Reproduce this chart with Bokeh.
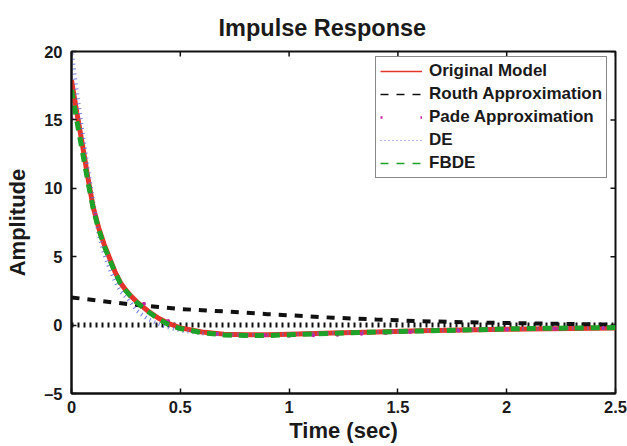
from bokeh.plotting import figure
from bokeh.models import (ColumnDataSource, FixedTicker, Range1d,
                          Legend, LegendItem, CustomJSTickFormatter)
from bokeh.embed import file_html
from bokeh.resources import INLINE
import math

# ---- data ----
t = [0, 0.025, 0.05, 0.075, 0.1, 0.125, 0.15, 0.175, 0.2, 0.225, 0.25, 0.275,
     0.3, 0.35, 0.4, 0.45, 0.5, 0.6, 0.7, 0.8, 0.9, 1.0, 1.2, 1.4, 1.6, 1.8,
     2.0, 2.2, 2.5]
original = [17.9, 15.5, 13.2, 10.8, 8.6, 7.1, 5.9, 4.9, 3.9, 3.1, 2.55, 2.1,
            1.7, 1.05, 0.5, 0.1, -0.2, -0.5, -0.66, -0.7, -0.7, -0.66, -0.58,
            -0.5, -0.41, -0.35, -0.3, -0.26, -0.21]
fbde = [17.2, 14.9, 12.7, 10.5, 8.5, 7.0, 5.8, 4.8, 3.85, 3.05, 2.5, 2.05,
        1.65, 1.0, 0.45, 0.0, -0.25, -0.55, -0.72, -0.76, -0.76, -0.71, -0.6,
        -0.51, -0.43, -0.36, -0.28, -0.23, -0.18]
de = [20.2, 17.0, 14.2, 11.5, 9.0, 6.6, 5.2, 4.1, 3.2, 2.45, 2.05, 1.6,
      1.05, 0.45, 0.08, -0.2, -0.4, -0.6, -0.68, -0.7, -0.7, -0.66, -0.58,
      -0.5, -0.42, -0.35, -0.3, -0.25, -0.2]
t_routh = [0, 0.1, 0.2, 0.3, 0.4, 0.5, 0.6, 0.7, 0.8, 0.9, 1.0, 1.2, 1.4,
           1.6, 1.8, 2.0, 2.2, 2.5]
routh = [2.02, 1.84, 1.64, 1.47, 1.32, 1.17, 1.09, 1.0, 0.9, 0.8, 0.72, 0.54,
         0.41, 0.29, 0.21, 0.15, 0.1, 0.03]
t_pade = [0, 0.111, 0.222, 0.333, 0.444, 0.556, 0.667, 0.778, 0.889, 1.0,
          1.111, 1.222, 1.333, 1.444, 1.556, 1.667, 1.778, 1.889, 2.0, 2.111,
          2.222, 2.333, 2.444]
pade = [15.1, 8.0, 3.1, 1.56, 0.3, -0.45, -0.64, -0.72, -0.75, -0.78, -0.74,
        -0.71, -0.64, -0.57, -0.5, -0.44, -0.4, -0.36, -0.32, -0.29, -0.26,
        -0.24, -0.22]
t_zero = [0, 2.5]
zero = [0, 0]
x_ticks = [0, 0.5, 1, 1.5, 2, 2.5]
y_ticks = [-5, 0, 5, 10, 15, 20]
labels = ["Original Model", "Routh Approximation", "Pade Approximation",
          "DE", "FBDE"]

FONT = "Liberation Sans"
RED = "#e5352a"
GREEN = "#1fa22a"
BLACK = "#111111"
MAGENTA = "#c4249f"
BLUE = "#5b6bd6"

p = figure(frame_width=544, frame_height=342,
           x_range=Range1d(x_ticks[0], x_ticks[-1]),
           y_range=Range1d(y_ticks[0], y_ticks[-1]), output_backend="svg",
           toolbar_location=None, min_border_left=71, min_border_right=12,
           min_border_top=51, min_border_bottom=53)
p.background_fill_color = "white"
p.border_fill_color = "white"
p.outline_line_color = BLACK
p.outline_line_width = 2
p.xgrid.visible = False
p.ygrid.visible = False

p.title.text = "Impulse Response"
p.title.align = "left"
p.title.offset = 147
p.title.text_font = FONT
p.title.text_font_size = "23.5px"
p.title.text_font_style = "bold"
p.title.text_color = "#1a1a1a"
p.title.standoff = 21

fmt = CustomJSTickFormatter(
    code="return tick < 0 ? '\u2013' + String(-tick) : String(tick);")

def style_axis(ax, ticks):
    ax.ticker = FixedTicker(ticks=ticks)
    ax.minor_tick_line_color = None
    ax.major_tick_in = 5
    ax.major_tick_out = 0
    ax.major_tick_line_width = 1.5
    ax.major_tick_line_color = BLACK
    ax.axis_line_color = BLACK
    ax.axis_line_width = 2
    ax.formatter = fmt
    ax.major_label_text_font = FONT
    ax.major_label_text_font_size = "16.5px"
    ax.major_label_text_font_style = "bold"
    ax.major_label_text_color = "#1a1a1a"
    ax.axis_label_text_font = FONT
    ax.axis_label_text_font_size = "22px"
    ax.axis_label_text_font_style = "bold"
    ax.axis_label_text_color = "#1a1a1a"

style_axis(p.xaxis[0], x_ticks)
style_axis(p.yaxis[0], y_ticks)
p.xaxis[0].axis_label = "Time (sec)"
p.xaxis[0].major_label_standoff = 7
p.xaxis[0].axis_label_standoff = 2
p.yaxis[0].axis_label = "Amplitude"
p.yaxis[0].major_label_standoff = 9
p.yaxis[0].axis_label_standoff = 11

# inward ticks on the top and right edges of the box (5 screen px long)
p.ray(x_ticks, [y_ticks[-1]] * len(x_ticks), length=5, length_units="screen",
      angle=-math.pi / 2, line_color=BLACK, line_width=1.5)
p.ray([x_ticks[-1]] * len(y_ticks), y_ticks, length=5, length_units="screen",
      angle=math.pi, line_color=BLACK, line_width=1.5)

# ---- data glyphs ----
p.line(t_zero, zero, line_color=BLACK, line_width=5, line_dash="2 4")
p.line(t, original, line_color=RED, line_width=5)
p.line(t_routh, routh, line_color=BLACK, line_width=4, line_dash="8 8")
p.scatter(t_pade, pade, size=4, color=MAGENTA, line_color=None)
p.line(t, de, line_color=BLUE, line_width=4, line_dash="1 4", line_alpha=0.85)
p.line(t, fbde, line_color=GREEN, line_width=5, line_dash="9 7")

# ---- legend-only renderers (thin styles like the reference legend) ----
nan_src = ColumnDataSource(data=dict(x=[float("nan")], y=[float("nan")]))
lg = [
    p.line("x", "y", source=nan_src, line_color=RED, line_width=1.3),
    p.line("x", "y", source=nan_src, line_color=BLACK, line_width=1.3, line_dash="8 8"),
    p.line("x", "y", source=nan_src, line_color=MAGENTA, line_width=2.5, line_dash="2 38"),
    p.line("x", "y", source=nan_src, line_color=BLUE, line_width=1.2, line_dash="1 3"),
    p.line("x", "y", source=nan_src, line_color=GREEN, line_width=1.3, line_dash="8 8"),
]
legend = Legend(items=[LegendItem(label=lab, renderers=[r]) for lab, r in zip(labels, lg)],
                location=(304, 215))
legend.label_text_font = FONT
legend.label_text_font_size = "17px"
legend.label_text_font_style = "bold"
legend.label_text_color = "#1a1a1a"
legend.glyph_width = 42
legend.glyph_height = 20
legend.label_height = 20
legend.label_standoff = 7
legend.spacing = 3
legend.padding = 4
legend.margin = 0
legend.border_line_color = BLACK
legend.border_line_width = 1.5
legend.background_fill_color = "white"
legend.background_fill_alpha = 1
p.add_layout(legend, "center")

open("out.html", "w").write(file_html(p, INLINE))
